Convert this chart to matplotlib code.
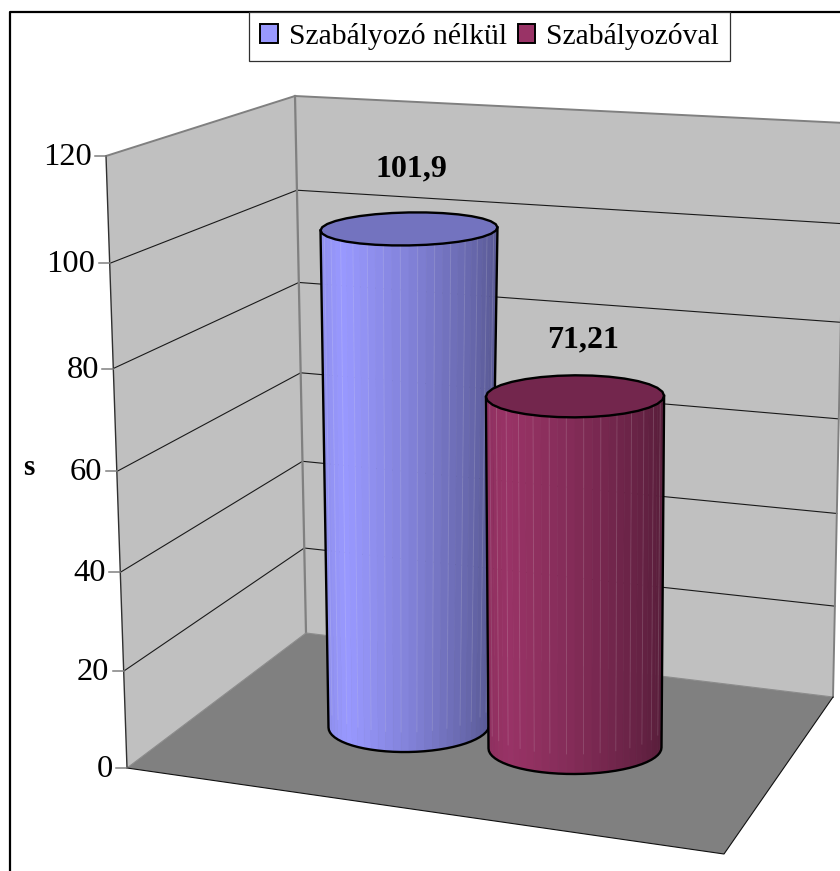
import numpy as np
import matplotlib
matplotlib.use("Agg")
import matplotlib.pyplot as plt
from matplotlib.patches import Patch, Polygon

plt.rcParams['font.family'] = ['Liberation Serif', 'DejaVu Serif']

# DATA
series_names = ["Szabályozó nélkül", "Szabályozóval"]
series_values = [101.9, 71.21]
series_colors = ["#9999FF", "#993366"]
tick_values = [0, 20, 40, 60, 80, 100, 120]
y_title = "s"
v_max = 120

# box corners in pixels, bottom then top of each vertical edge
edge_front = np.array([[127, 768], [106, 156]])
edge_back = np.array([[306, 633], [295, 96]])
edge_right = np.array([[833, 697], [845, 123]])
floor_front_right = (724, 854)
persp = 0.94

# cylinder layout: base ellipse and how it changes up to v_max
base_cx = [409.0, 575.0]
base_cy = [726.0, 748.0]
base_rx = [80.5, 86.5]
top_grow = [9.5, 4.5]     # radius gain at full height
ry_base = [26.0, 26.0]
ry_shrink = [11.3, 8.6]
full_height = [591.0, 608.0]
tilt = [1.5, 0.5]
label_dx = [2.5, 8.0]
label_dy = [60.5, 56.5]


def frac(v):
    t = np.asarray(v, dtype=float) / v_max
    return t * persp / (1 - t + t * persp)


def on_edge(edge, v):
    return edge[0] + (edge[1] - edge[0]) * frac(v)


def shade(color, u):
    k = np.interp(u, [0, 0.12, 0.5, 0.85, 1], [0.93, 1.0, 0.85, 0.68, 0.58])
    return tuple(np.array(matplotlib.colors.to_rgb(color)) * k)


def ellipse_pts(cx, cy, rx, ry, tl, th):
    return np.column_stack([cx + rx * np.cos(th), cy + ry * np.sin(th) - tl * np.cos(th)])


fig = plt.figure(figsize=(8.4, 8.71), dpi=100)
ax = fig.add_axes([0, 0, 1, 1])
ax.set_xlim(0, 840)
ax.set_ylim(871, 0)
ax.axis("off")

# outer chart border
ax.plot([9.5, 9.5, 840], [871, 12, 12], color="black", lw=1.6, zorder=1)

# walls and floor
ax.add_patch(Polygon([edge_front[1], edge_back[1], edge_back[0], edge_front[0]], fc="#C0C0C0", ec="none", zorder=2))
ax.add_patch(Polygon([edge_back[1], edge_right[1], edge_right[0], edge_back[0]], fc="#C0C0C0", ec="none", zorder=2))
ax.add_patch(Polygon([edge_front[0], edge_back[0], edge_right[0], floor_front_right], fc="#808080", ec="none", zorder=2))

# gridlines
for v in tick_values[1:-1]:
    a, b, c = on_edge(edge_front, v), on_edge(edge_back, v), on_edge(edge_right, v)
    ax.plot([a[0], b[0], c[0]], [a[1], b[1], c[1]], color="#1a1a1a", lw=0.8, zorder=3)

# box edges
grey = "#808080"
ax.plot(*zip(edge_front[1], edge_back[1], edge_right[1]), color=grey, lw=1.4, zorder=3)
ax.plot(*zip(edge_back[1], edge_back[0]), color=grey, lw=1.6, zorder=3)
ax.plot(*zip(edge_right[1], edge_right[0]), color=grey, lw=1.4, zorder=3)
ax.plot(*zip(edge_front[0], edge_back[0], edge_right[0]), color="#8c8c8c", lw=0.8, zorder=3)
ax.plot(*zip(edge_front[1], edge_front[0]), color="#303030", lw=1.0, zorder=3)
ax.plot(*zip(edge_front[0], floor_front_right, edge_right[0]), color="#101010", lw=0.8, zorder=3)

# value axis ticks and labels
for v in tick_values:
    p = on_edge(edge_front, v)
    ax.plot([p[0] - 11, p[0]], [p[1], p[1]], color=grey, lw=1.1, zorder=3)
    ax.text(p[0] - 14.5, p[1] + 1.5, str(v), ha="right", va="center", fontsize=23.4, color="black")

ax.text(29, 467, y_title, ha="center", va="center", fontsize=21, fontweight="bold")

# cylinders, the later one in front
th_front = np.linspace(np.pi, 0, 33)
th_all = np.linspace(0, 2 * np.pi, 33)
for i, val in enumerate(series_values):
    f = frac(val)
    z = 5 + i
    cx, cy0, col = base_cx[i], base_cy[i], series_colors[i]
    cy1 = cy0 - full_height[i] * f
    rx0, rx1 = base_rx[i], base_rx[i] + top_grow[i] * f
    ry0, ry1 = ry_base[i], ry_base[i] - ry_shrink[i] * f
    low = ellipse_pts(cx, cy0, rx0, ry0, tilt[i], th_front)
    up = ellipse_pts(cx, cy1, rx1, ry1, tilt[i], th_front)

    for k in range(len(th_front) - 1):
        u = (up[k, 0] + up[k + 1, 0] - 2 * (cx - rx1)) / (4 * rx1)
        c = shade(col, u)
        ax.add_patch(Polygon([low[k], low[k + 1], up[k + 1], up[k]], fc=c, ec=c, lw=0.4, zorder=z))
        if k % 2 == 1:
            ax.plot([low[k, 0], up[k, 0]], [low[k, 1] - 20, up[k, 1]], color="white", alpha=0.13, lw=0.7, zorder=z)

    # top face and outline
    cap = ellipse_pts(cx, cy1, rx1, ry1, tilt[i], th_all)
    top_col = tuple(np.array(matplotlib.colors.to_rgb(col)) * 0.75)
    ax.add_patch(Polygon(cap, fc=top_col, ec="black", lw=1.7, joinstyle="round", zorder=z))
    ax.plot(np.r_[up[0, 0], low[:, 0], up[-1, 0]], np.r_[up[0, 1], low[:, 1], up[-1, 1]],
            color="black", lw=1.7, solid_joinstyle="round", zorder=z)

    label = str(val).replace(".", ",")
    ax.text(cx + label_dx[i], cy1 - label_dy[i], label, ha="center", va="center",
            fontsize=23, fontweight="bold", zorder=10)

handles = [Patch(fc=c, ec="black", lw=1.4) for c in series_colors]
leg = ax.legend(handles, series_names, loc="upper left", bbox_to_anchor=(249, 12),
                bbox_transform=ax.transData, ncols=2, fontsize=21.3, frameon=True,
                fancybox=False, framealpha=1, edgecolor="#303030", borderaxespad=0,
                borderpad=0.37, handlelength=0.6, handleheight=0.6, handletextpad=0.37,
                columnspacing=0.37)
leg.get_frame().set_linewidth(0.9)
leg.set_zorder(12)

fig.savefig("out.png", dpi=100)
